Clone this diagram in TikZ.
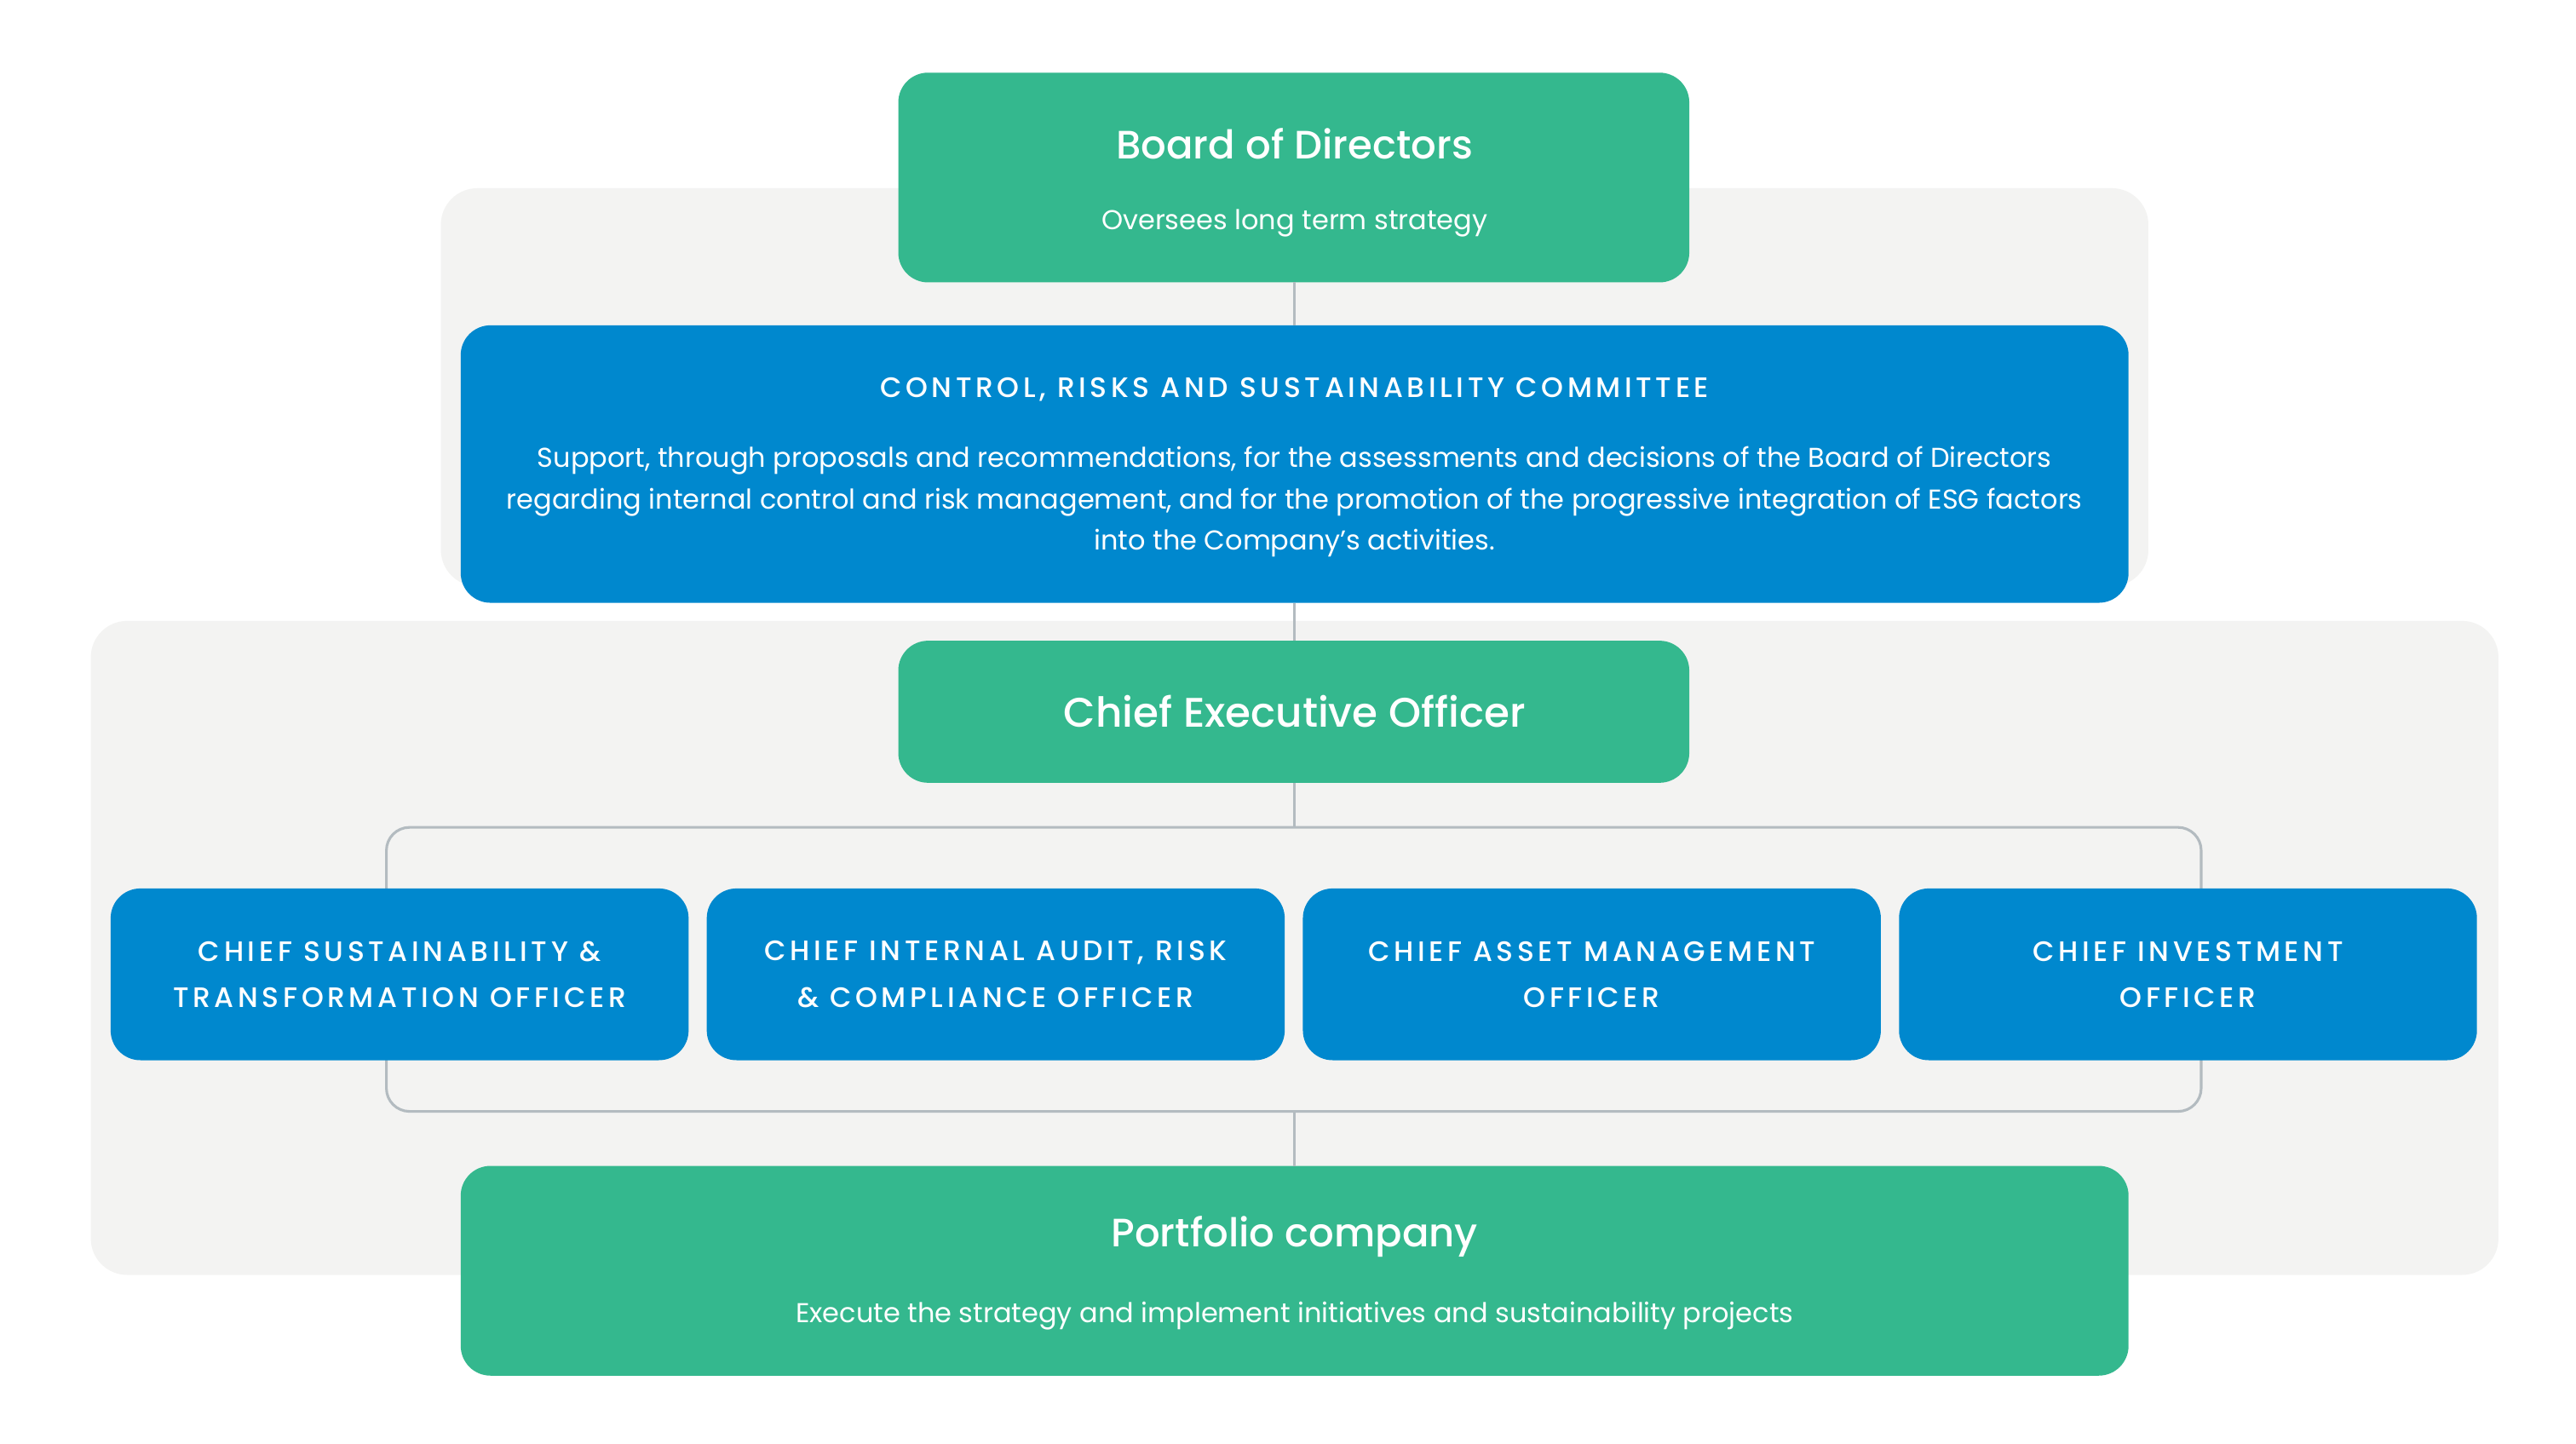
\documentclass[tikz,border=0pt]{standalone}
\usepackage{fontspec}
\setmainfont{Poppins}
\newfontfamily\capsfont[LetterSpace=14]{Poppins Medium}
\newfontfamily\medfont{Poppins Medium}
\definecolor{grn}{HTML}{34B88E}
\definecolor{blu}{HTML}{0088CE}
\definecolor{bg}{HTML}{F3F3F2}
\definecolor{ln}{HTML}{B3BBC0}
\begin{document}
\begin{tikzpicture}[x=1pt,y=-1pt,
  box/.style={rounded corners=18pt,draw=none},
  txt/.style={text=white,align=center,inner sep=0pt},
  conn/.style={draw=ln,line width=1.6pt}]
\useasboundingbox (0,0) rectangle (1560,874);
\fill[white] (0,0) rectangle (1560,874);
\fill[bg,rounded corners=22pt] (267,114) rectangle (1301,355);
\fill[bg,rounded corners=22pt] (55,376) rectangle (1513,772);
% connectors
\coordinate (bt) at (234,501);
\draw[conn,rounded corners=14pt] (234,501) rectangle (1333,673);
\fill[grn,box] (544,44) rectangle (1023,171);
\fill[blu,box] (279,197) rectangle (1289,365);
\fill[grn,box] (544,388) rectangle (1023,474);
\fill[grn,box] (279,706) rectangle (1289,833);
\foreach \x/\n in {67/a,428/b,789/c,1150/d}{
  \fill[blu,box] (\x,538) rectangle (\x+350,642);
  \coordinate (\n) at (\x+175,590);
}
\node (board) [txt,font=\medfont\fontsize{24}{28}\selectfont] at (784,87) {Board of Directors};
\node (boardsub) [txt,font=\fontsize{16.5}{20}\selectfont] at (784,135) {Oversees long term strategy};
\node (crs) [txt,font=\capsfont\fontsize{17}{20}\selectfont] at (784,236) {CONTROL, RISKS AND SUSTAINABILITY COMMITTEE};
\node (crssub) [txt,font=\fontsize{16.5}{25}\selectfont] at (784,304) {Support, through proposals and recommendations, for the assessments and decisions of the Board of Directors\\regarding internal control and risk management, and for the promotion of the progressive integration of ESG factors\\into the Company’s activities.};
\node (ceo) [txt,font=\medfont\fontsize{25}{30}\selectfont] at (784,431) {Chief Executive Officer};
\node (pc) [txt,font=\medfont\fontsize{24}{28}\selectfont] at (784,749) {Portfolio company};
\node (pcsub) [txt,font=\fontsize{16.5}{20}\selectfont] at (784,797) {Execute the strategy and implement initiatives and sustainability projects};
\tikzset{ct/.style={txt,font=\capsfont\fontsize{17}{28}\selectfont}}
\node (na) [ct] at (a) {CHIEF SUSTAINABILITY \&\\TRANSFORMATION OFFICER};
\node (nb) [ct] at (b) {CHIEF INTERNAL AUDIT, RISK\\\& COMPLIANCE OFFICER};
\node (nc) [ct] at (c) {CHIEF ASSET MANAGEMENT\\OFFICER};
\node (nd) [ct] at (d) {CHIEF INVESTMENT\\OFFICER};
\coordinate (b1) at (784,171); \coordinate (c1) at (784,197);
\coordinate (c2) at (784,365); \coordinate (e1) at (784,388);
\coordinate (e2) at (784,474); \coordinate (t1) at (784,501);
\coordinate (t2) at (784,673); \coordinate (p1) at (784,706);
\draw[conn] (b1)--(c1); \draw[conn] (c2)--(e1);
\draw[conn] (e2)--(t1); \draw[conn] (t2)--(p1);
\end{tikzpicture}
\end{document}
